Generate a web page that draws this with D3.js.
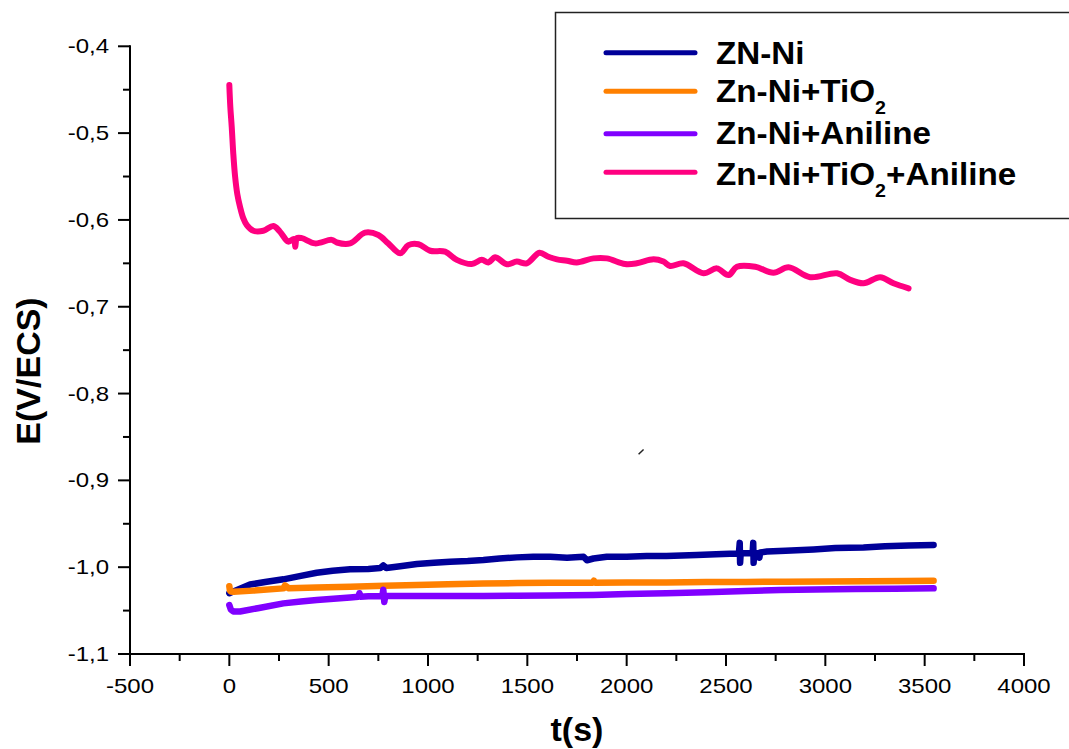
<!DOCTYPE html>
<html>
<head>
<meta charset="utf-8">
<script src="https://cdn.jsdelivr.net/npm/d3@7"></script>
<style>
  html, body { margin: 0; padding: 0; background: #fff; }
  svg { display: block; font-family: Arial, "Liberation Sans", sans-serif; }
</style>
</head>
<body>
<svg id="chart" width="1069" height="749"></svg>
<script>
// Open-circuit potential vs time for the four deposits
const seriesNames = ["ZN-Ni", "Zn-Ni+TiO2", "Zn-Ni+Aniline", "Zn-Ni+TiO2+Aniline"];
const seriesColors = ["#000099", "#FF8000", "#8000FF", "#FF0080"];

const tZnNi = [0, 30, 104, 180, 272, 360, 440, 520, 608, 700, 760, 775, 790, 860, 944, 1030, 1111, 1200, 1279, 1360, 1447, 1530, 1615, 1700, 1783, 1800, 1833, 1900, 2000, 2101, 2200, 2353, 2450, 2555, 2565, 2569, 2571, 2574, 2600, 2634, 2637, 2639, 2642, 2660, 2668, 2672, 2706, 2800, 2941, 3050, 3192, 3300, 3420, 3545];
const eZnNi = [-1.030, -1.027, -1.020, -1.017, -1.014, -1.010, -1.0064, -1.004, -1.0025, -1.002, -1.001, -0.998, -1.001, -0.999, -0.9964, -0.995, -0.9938, -0.993, -0.9918, -0.990, -0.9887, -0.988, -0.988, -0.989, -0.988, -0.992, -0.990, -0.988, -0.988, -0.987, -0.987, -0.986, -0.985, -0.9841, -0.984, -0.972, -0.995, -0.984, -0.984, -0.984, -0.972, -0.995, -0.984, -0.984, -0.989, -0.983, -0.982, -0.981, -0.9795, -0.978, -0.9772, -0.976, -0.975, -0.9745];

const tTiO2 = [0, 3, 8, 20, 120, 272, 280, 300, 440, 608, 780, 944, 1100, 1279, 1450, 1615, 1830, 1835, 1840, 2000, 2200, 2400, 2600, 2800, 3000, 3200, 3400, 3545];
const eTiO2 = [-1.022, -1.027, -1.028, -1.0283, -1.027, -1.0244, -1.021, -1.0244, -1.0235, -1.0226, -1.0215, -1.0206, -1.0196, -1.0187, -1.0183, -1.018, -1.0178, -1.0155, -1.0178, -1.0177, -1.0175, -1.0172, -1.017, -1.0167, -1.0164, -1.0161, -1.0159, -1.0157];

const tAniline = [0, 8, 20, 54, 150, 272, 360, 440, 608, 650, 655, 660, 700, 770, 775, 780, 785, 860, 944, 1100, 1279, 1450, 1615, 1833, 2000, 2200, 2400, 2600, 2773, 2950, 3150, 3350, 3545];
const eAniline = [-1.0437, -1.049, -1.051, -1.051, -1.047, -1.0417, -1.0395, -1.0379, -1.0348, -1.034, -1.030, -1.034, -1.0335, -1.0333, -1.026, -1.040, -1.0333, -1.0333, -1.0333, -1.0333, -1.0333, -1.0328, -1.0325, -1.032, -1.031, -1.030, -1.029, -1.0275, -1.0264, -1.0258, -1.0252, -1.0248, -1.0244];

const tMixed = [0, 5, 12, 20, 29, 40, 54, 70, 88, 121, 171, 222, 255, 297, 325, 332, 340, 365, 431, 515, 541, 608, 683, 750, 800, 860, 901, 952, 1011, 1086, 1145, 1220, 1271, 1304, 1338, 1397, 1447, 1497, 1561, 1606, 1649, 1700, 1749, 1833, 1900, 1992, 2051, 2135, 2185, 2219, 2286, 2387, 2454, 2513, 2555, 2647, 2739, 2815, 2924, 3059, 3125, 3192, 3276, 3343, 3419];
const eMixed = [-0.4446, -0.470, -0.4926, -0.524, -0.550, -0.570, -0.585, -0.598, -0.606, -0.6125, -0.6125, -0.607, -0.6136, -0.625, -0.622, -0.631, -0.621, -0.621, -0.627, -0.623, -0.626, -0.627, -0.6147, -0.6174, -0.627, -0.6385, -0.629, -0.628, -0.6355, -0.6366, -0.646, -0.6508, -0.646, -0.649, -0.643, -0.651, -0.648, -0.650, -0.6378, -0.6424, -0.6454, -0.647, -0.649, -0.6443, -0.6443, -0.6508, -0.650, -0.6454, -0.648, -0.653, -0.650, -0.6615, -0.6558, -0.6635, -0.654, -0.654, -0.6608, -0.6546, -0.666, -0.6615, -0.669, -0.673, -0.666, -0.673, -0.6788];

// small stray pen stroke present on the plot
const strayT = [2060, 2085];
const strayE = [-0.870, -0.8645];

const xTicks = [-500, 0, 500, 1000, 1500, 2000, 2500, 3000, 3500, 4000];
const yTicks = [-0.4, -0.5, -0.6, -0.7, -0.8, -0.9, -1.0, -1.1];

const svg = d3.select("#chart");

const x = d3.scaleLinear().domain([-500, 4000]).range([130, 1024]);
const y = d3.scaleLinear().domain([-1.1, -0.4]).range([654, 46.3]);

const fmtY = d => d3.format(".1f")(d).replace(".", ",").replace("−", "-");

// minor ticks
const xMinor = d3.range(-500, 4001, 250).filter(v => !xTicks.includes(v));
const yMinor = [-0.45, -0.55, -0.65, -0.75, -0.85, -0.95, -1.05];

const axisStroke = "#000";
const tickStretch = 1.2;

// x axis
const gx = svg.append("g").attr("transform", `translate(0,654)`);
gx.append("line").attr("x1", x(-500)).attr("x2", x(4000)).attr("y1", 0).attr("y2", 0)
  .attr("stroke", axisStroke).attr("stroke-width", 2).attr("stroke-linecap", "square");
gx.selectAll("line.maj").data(xTicks).join("line").attr("class", "maj")
  .attr("x1", d => x(d)).attr("x2", d => x(d)).attr("y1", 0).attr("y2", 12)
  .attr("stroke", axisStroke).attr("stroke-width", 2);
gx.selectAll("line.min").data(xMinor).join("line").attr("class", "min")
  .attr("x1", d => x(d)).attr("x2", d => x(d)).attr("y1", 0).attr("y2", 7)
  .attr("stroke", axisStroke).attr("stroke-width", 2);
gx.selectAll("text").data(xTicks).join("text")
  .attr("transform", d => `translate(${x(d)},39) scale(${tickStretch},1)`)
  .attr("text-anchor", "middle")
  .attr("font-size", 20).attr("fill", "#000").text(d => d);

// y axis
const gy = svg.append("g").attr("transform", `translate(130,0)`);
gy.append("line").attr("x1", 0).attr("x2", 0).attr("y1", y(-0.4)).attr("y2", y(-1.1))
  .attr("stroke", axisStroke).attr("stroke-width", 2).attr("stroke-linecap", "square");
gy.selectAll("line.maj").data(yTicks).join("line").attr("class", "maj")
  .attr("x1", -12).attr("x2", 0).attr("y1", d => y(d)).attr("y2", d => y(d))
  .attr("stroke", axisStroke).attr("stroke-width", 2);
gy.selectAll("line.min").data(yMinor).join("line").attr("class", "min")
  .attr("x1", -7).attr("x2", 0).attr("y1", d => y(d)).attr("y2", d => y(d))
  .attr("stroke", axisStroke).attr("stroke-width", 2);
gy.selectAll("text").data(yTicks).join("text")
  .attr("transform", d => `translate(-21,${y(d) + 7}) scale(${tickStretch},1)`)
  .attr("text-anchor", "end")
  .attr("font-size", 20).attr("fill", "#000").text(fmtY);

// axis titles
svg.append("text").attr("x", 577).attr("y", 741).attr("text-anchor", "middle")
  .attr("font-size", 34).attr("font-weight", "bold").attr("fill", "#000").text("t(s)");
svg.append("text").attr("transform", "translate(40,371) rotate(-90)").attr("text-anchor", "middle")
  .attr("font-size", 34).attr("font-weight", "bold").attr("fill", "#000").text("E(V/ECS)");

// curves
const series = [
  { t: tZnNi, e: eZnNi, curve: d3.curveLinear, w: 6.5 },
  { t: tTiO2, e: eTiO2, curve: d3.curveLinear, w: 6.5 },
  { t: tAniline, e: eAniline, curve: d3.curveLinear, w: 6.5 },
  { t: tMixed, e: eMixed, curve: d3.curveCatmullRom.alpha(0.5), w: 6 }
];

series.forEach((s, i) => {
  const pts = s.t.map((t, k) => [t, s.e[k]]);
  const line = d3.line().x(d => x(d[0])).y(d => y(d[1])).curve(s.curve);
  svg.append("path").datum(pts).attr("d", line)
    .attr("fill", "none").attr("stroke", seriesColors[i])
    .attr("stroke-width", s.w).attr("stroke-linecap", "round").attr("stroke-linejoin", "round");
});

svg.append("path")
  .datum(strayT.map((t, k) => [t, strayE[k]]))
  .attr("d", d3.line().x(d => x(d[0])).y(d => y(d[1])))
  .attr("stroke", "#222").attr("stroke-width", 1.5).attr("fill", "none");

// legend
const lg = svg.append("g");
lg.append("rect").attr("x", 555.5).attr("y", 12.5).attr("width", 530).attr("height", 206)
  .attr("fill", "#fff").attr("stroke", "#222").attr("stroke-width", 1.5);

const rowY = [52.7, 91.3, 133.7, 172.3];
const baseY = [63.5, 102, 143.5, 185];

seriesNames.forEach((name, i) => {
  lg.append("line").attr("x1", 606).attr("x2", 695).attr("y1", rowY[i]).attr("y2", rowY[i])
    .attr("stroke", seriesColors[i]).attr("stroke-width", 5).attr("stroke-linecap", "round");
  const txt = lg.append("text").attr("transform", `translate(716,${baseY[i]}) scale(1.09,1)`)
    .attr("font-size", 30.5).attr("font-weight", "bold").attr("fill", "#000");
  const parts = name.split("TiO2");
  if (parts.length === 1) {
    txt.text(name);
  } else {
    txt.append("tspan").text(parts[0] + "TiO");
    txt.append("tspan").attr("font-size", 18).attr("dy", 12).text("2");
    if (parts[1]) txt.append("tspan").attr("dy", -12).text(parts[1]);
  }
});
</script>
</body>
</html>
